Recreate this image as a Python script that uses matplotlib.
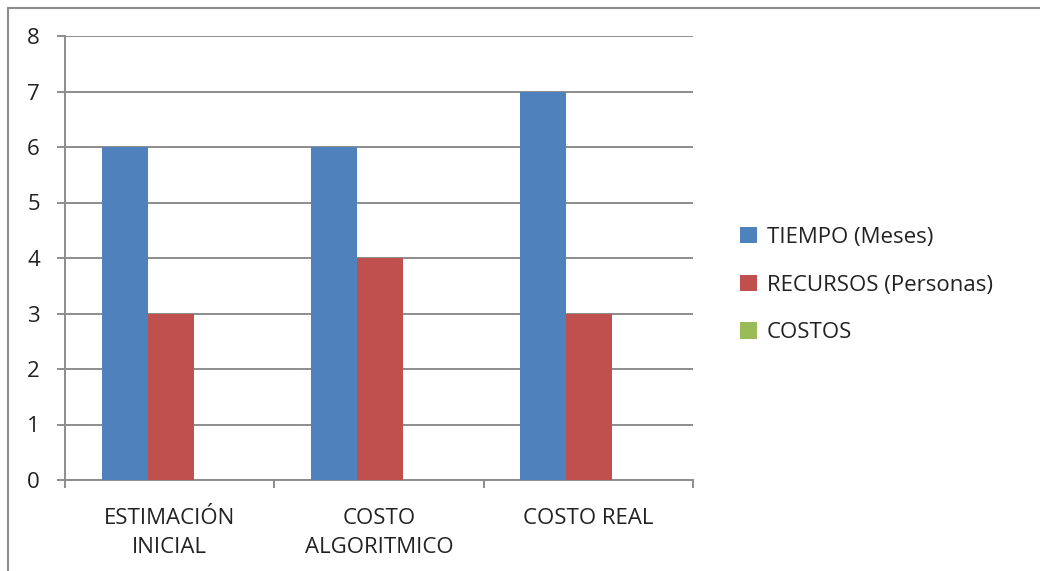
import matplotlib
matplotlib.use('Agg')
import matplotlib.pyplot as plt
import numpy as np
from matplotlib.patches import Rectangle

categories = ["ESTIMACIÓN\nINICIAL", "COSTO\nALGORITMICO", "COSTO REAL"]
series_names = ["TIEMPO (Meses)", "RECURSOS (Personas)", "COSTOS"]
tiempo = [6, 6, 7]
recursos = [3, 4, 3]
costos = [0, 0, 0]
y_ticks = [0, 1, 2, 3, 4, 5, 6, 7, 8]

colors = ["#4F81BD", "#C0504D", "#9BBB59"]
grey = "#8c8c8c"

plt.rcParams['font.family'] = ['Open Sans', 'DejaVu Sans']

fig = plt.figure(figsize=(10.4, 5.71), dpi=100)
ax = fig.add_axes([65 / 1040, 1 - 480 / 571, (693 - 65) / 1040, (480 - 36) / 571])

# outer chart frame (cut off on the right and bottom)
fig.patches.append(Rectangle((8 / 1040, -0.1), 1.2, 1 - 8 / 571 + 0.1,
                             transform=fig.transFigure, fill=False,
                             edgecolor=grey, linewidth=1.5, zorder=0))

x = np.arange(1, len(categories) + 1)
w = 0.22
for k, vals in enumerate([tiempo, recursos, costos]):
    ax.bar(x + (k - 1) * w + 0.005, vals, width=w, color=colors[k],
           label=series_names[k], zorder=3)

ax.set_xlim(0.5, len(categories) + 0.5)
ax.set_ylim(0, 8)
ax.set_yticks(y_ticks)
ax.yaxis.grid(True, color=grey, linewidth=1.4, zorder=0)
ax.set_axisbelow(True)

ax.set_xticks(np.arange(0.5, len(categories) + 1))
ax.set_xticklabels([])
ax.set_xticks(x, minor=True)
ax.set_xticklabels(categories, minor=True, fontsize=16, color="#222222",
                   linespacing=1.5)
ax.tick_params(axis='x', which='minor', length=0, pad=20)
ax.tick_params(axis='x', which='major', length=6, width=1.4, color=grey, direction='out')
ax.tick_params(axis='y', length=6, width=1.4, color=grey, direction='out',
               labelsize=16, labelcolor="#222222", pad=12)

for s in ['top', 'right']:
    ax.spines[s].set_visible(False)
for s in ['left', 'bottom']:
    ax.spines[s].set_color(grey)
    ax.spines[s].set_linewidth(1.4)

fig.legend(loc='center left', bbox_to_anchor=(720 / 1040, 1 - 285 / 571),
           frameon=False, fontsize=16, handlelength=0.75, handleheight=0.75,
           handletextpad=0.45, labelspacing=1.2, labelcolor="#222222")

fig.savefig("out.png", dpi=100, facecolor="white")
